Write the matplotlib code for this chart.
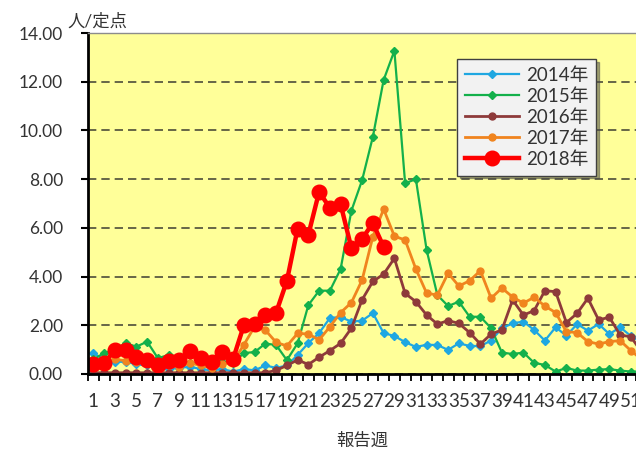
import numpy as np
import matplotlib
matplotlib.use("Agg")
import matplotlib.pyplot as plt

plt.rcParams['font.family'] = ['Lato', 'Noto Sans CJK JP', 'DejaVu Sans']

weeks = list(range(1, 53))

y2014 = [0.85, 0.6, 0.5, 0.5, 0.4, 0.35, 0.3, 0.2, 0.25, 0.3, 0.2, 0.15, 0.2, 0.1, 0.2, 0.15,
         0.35, 0.25, 0.35, 0.78, 1.27, 1.68, 2.3, 2.34, 2.15, 2.19, 2.5, 1.68, 1.56, 1.31, 1.11, 1.2,
         1.19, 0.99, 1.26, 1.15, 1.15, 1.37, 1.88, 2.08, 2.15, 1.81, 1.37, 1.92, 1.57, 2.05, 1.78, 2.05,
         1.64, 1.92, 1.56, 1.3]
y2015 = [0.6, 0.86, 1.0, 1.27, 1.12, 1.33, 0.65, 0.78, 0.5, 0.45, 0.4, 0.35, 0.5, 0.45, 0.86, 0.9,
         1.25, 1.19, 0.57, 1.26, 2.83, 3.42, 3.42, 4.31, 6.7, 7.96, 9.74, 12.07, 13.27, 7.83, 8.0, 5.09,
         3.24, 2.79, 2.97, 2.35, 2.35, 1.88, 0.88, 0.82, 0.88, 0.46, 0.37, 0.1, 0.25, 0.14, 0.14, 0.18,
         0.2, 0.14, 0.1, 0.1]
y2016 = [0.05, 0.05, 0.05, 0.05, 0.05, 0.05, 0.05, 0.05, 0.05, 0.05, 0.05, 0.05, 0.05, 0.05, 0.05, 0.05,
         0.05, 0.15, 0.35, 0.58, 0.39, 0.69, 0.96, 1.26, 1.88, 3.05, 3.8, 4.1, 4.75, 3.31, 2.97, 2.42,
         2.05, 2.19, 2.08, 1.7, 1.23, 1.64, 1.81, 3.04, 2.42, 2.6, 3.42, 3.38, 2.11, 2.49, 3.11, 2.22,
         2.33, 1.6, 1.53, 0.9]
y2017 = [0.5, 0.5, 0.6, 0.55, 0.5, 0.45, 0.3, 0.35, 0.3, 0.45, 0.35, 0.25, 0.4, 0.5, 1.2, 1.95,
         1.8, 1.3, 1.15, 1.67, 1.64, 1.4, 1.94, 2.52, 2.93, 3.86, 5.64, 6.77, 5.66, 5.5, 4.31, 3.32,
         3.24, 4.14, 3.61, 3.83, 4.24, 3.11, 3.53, 3.16, 2.91, 3.15, 2.79, 2.52, 1.74, 1.7, 1.33, 1.23,
         1.33, 1.37, 0.96, 0.6]
y2018 = [0.4, 0.45, 0.98, 0.98, 0.7, 0.57, 0.37, 0.55, 0.57, 0.95, 0.65, 0.5, 0.92, 0.62, 2.0, 2.05,
         2.42, 2.52, 3.82, 5.97, 5.72, 7.48, 6.82, 6.97, 5.17, 5.55, 6.2, 5.22]

fig = plt.figure(figsize=(6.36, 4.55), dpi=100)
# axes runs past the right edge of the picture, like the cropped original
ax = fig.add_axes([88/636, 81/455, 559/636, 341/455])
ax.set_facecolor('#FFFF99')

ax.plot(weeks, y2014, color='#1FA7E1', lw=1.6, marker='D', ms=4, label='2014年')
ax.plot(weeks, y2015, color='#13B04B', lw=1.6, marker='D', ms=4, label='2015年')
ax.plot(weeks, y2016, color='#8E3A3A', lw=2.0, marker='o', ms=5, label='2016年')
ax.plot(weeks, y2017, color='#F0841E', lw=2.0, marker='o', ms=5, label='2017年')
ax.plot(weeks[:len(y2018)], y2018, color='#FF0000', lw=3.2, marker='o', ms=10.5, label='2018年')

ax.set_xlim(0.5, 52.5)
ax.set_ylim(0, 14)

ax.set_yticks(np.arange(0, 15, 2))
ax.set_yticklabels([f'{v:.2f}' for v in np.arange(0, 15, 2)], fontsize=12.5, color='#333333')
ax.yaxis.grid(True, linestyle=(0, (5, 3)), color='#4d4d3a', lw=1.2)
ax.set_axisbelow(True)
ax.tick_params(axis='y', length=5, width=1.5, direction='out', pad=13)

ax.set_xticks(weeks[::2])
ax.set_xticklabels([str(w) for w in weeks[::2]], fontsize=13.5, color='#333333')
ax.set_xticks(np.arange(0.5, 53, 1), minor=True)
ax.tick_params(axis='x', which='major', length=0, pad=14)
ax.tick_params(axis='x', which='minor', length=5, width=1.3)

ax.spines['left'].set_linewidth(2)
ax.spines['bottom'].set_linewidth(2)
ax.spines['top'].set_color('#8c8c8c')
ax.spines['top'].set_linewidth(1)
ax.spines['right'].set_visible(False)

fig.text(97/636, 1 - 22/455, '人/定点', fontsize=12.5, ha='center', va='center', color='#333333')
fig.text(362/636, 1 - 441/455, '報告週', fontsize=12.5, ha='center', va='center', color='#333333')

leg = ax.legend(loc='upper left', bbox_to_anchor=(457/636, 1 - 59/455), bbox_transform=fig.transFigure,
                borderaxespad=0, fontsize=13.5, frameon=True, fancybox=False, shadow=True,
                handlelength=2.9, labelspacing=0.22, borderpad=0.4, handletextpad=0.4)
leg.get_frame().set_facecolor('#F2F2F2')
leg.get_frame().set_edgecolor('#404040')
leg.get_frame().set_alpha(1)
for t in leg.get_texts():
    t.set_color('#333333')

fig.savefig('out.png', dpi=100)
